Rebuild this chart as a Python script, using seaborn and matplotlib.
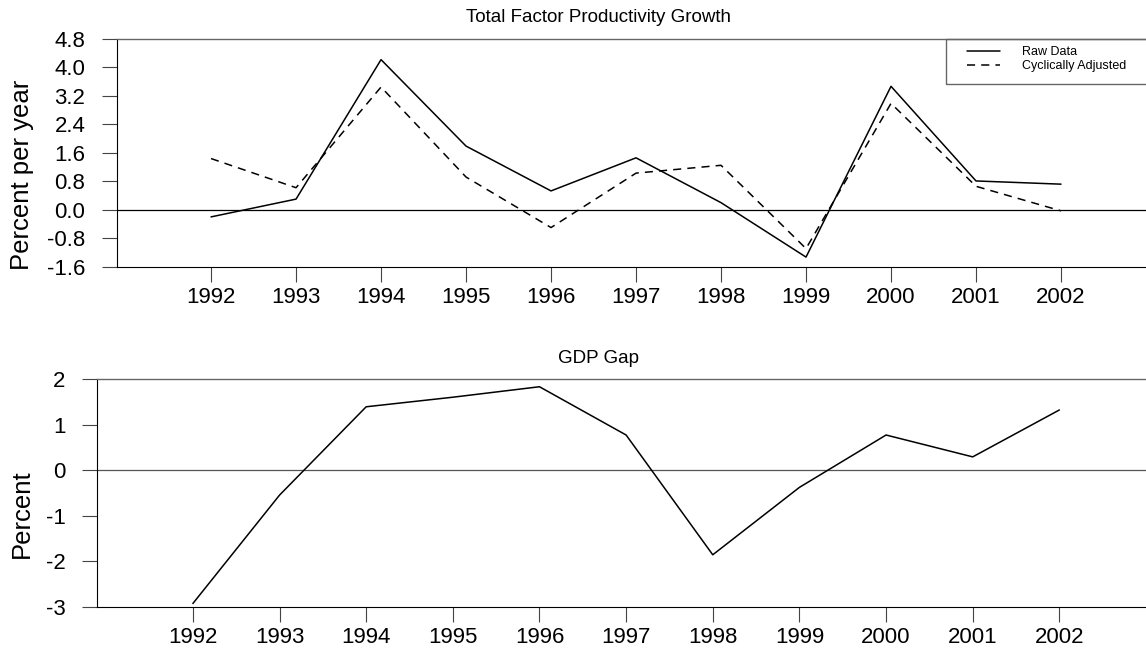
import pandas as pd
import matplotlib.pyplot as plt
from matplotlib.patches import Rectangle
import seaborn as sns

# Data
years = [1992, 1993, 1994, 1995, 1996, 1997, 1998, 1999, 2000, 2001, 2002]
tfp_raw = [-0.20, 0.30, 4.22, 1.79, 0.53, 1.46, 0.20, -1.33, 3.47, 0.81, 0.72]
tfp_adj = [1.44, 0.62, 3.45, 0.92, -0.50, 1.03, 1.25, -1.09, 2.99, 0.66, -0.03]
gdp_gap = [-2.93, -0.55, 1.39, 1.60, 1.83, 0.77, -1.86, -0.38, 0.77, 0.29, 1.32]

tfp_ticks = [-1.6, -0.8, 0.0, 0.8, 1.6, 2.4, 3.2, 4.0, 4.8]
gap_ticks = [-3, -2, -1, 0, 1, 2]
year_labels = [str(y) for y in years]

sns.set_style("ticks")
plt.rcParams['font.family'] = ['Liberation Sans', 'DejaVu Sans']
plt.rcParams['text.color'] = 'black'
plt.rcParams['axes.labelcolor'] = 'black'

W, H = 1146, 652
fig = plt.figure(figsize=(W / 100, H / 100), dpi=100)


def add_axes_px(left, top, right, bottom):
    return fig.add_axes([left / W, 1 - bottom / H, (right - left) / W, (bottom - top) / H])


def style_axes(ax, ticks, labels, zero_color, top_color):
    ax.set_xlim(1990.89, 2003.0)
    ax.set_ylim(ticks[0], ticks[-1])
    ax.set_xticks(years)
    ax.set_xticklabels(year_labels)
    ax.set_yticks(ticks)
    ax.set_yticklabels(labels)
    ax.tick_params(axis='both', direction='out', length=10.5, width=0.8,
                   color='#444444', labelsize=16, labelcolor='black',
                   bottom=True, left=True, top=False, right=False)
    ax.tick_params(axis='x', pad=4)
    ax.tick_params(axis='y', pad=12)
    ax.spines['right'].set_visible(False)
    ax.spines['top'].set_visible(True)
    ax.spines['top'].set_color(top_color)
    ax.spines['top'].set_linewidth(1.0)
    for s in ['left', 'bottom']:
        ax.spines[s].set_color('black')
        ax.spines[s].set_linewidth(0.8)
    ax.axhline(0, color=zero_color, lw=0.9, zorder=1)
    ax.set_xlabel('')
    ax.set_ylabel('')


# ------------------------------
# Top panel: TFP growth
# ------------------------------
ax1 = add_axes_px(116.7, 39, 1146, 266.7)
sns.lineplot(x=years, y=tfp_raw, ax=ax1, color='black', lw=1.1, label='Raw Data')
sns.lineplot(x=years, y=tfp_adj, ax=ax1, color='black', lw=1.1,
             linestyle=(0, (5.3, 4)), label='Cyclically Adjusted')
style_axes(ax1, tfp_ticks, [f"{t:.1f}" for t in tfp_ticks], 'black', '#666666')

handles, labels = ax1.get_legend_handles_labels()
ax1.legend(handles, labels, loc='upper left', bbox_to_anchor=(0.8258, 0.969),
           frameon=False, borderpad=0, borderaxespad=0, handlelength=2.67,
           handletextpad=1.73, labelspacing=0.15, fontsize=9)
ax1.add_patch(Rectangle((0.8054, 0.8037), 0.3, 0.1963, transform=ax1.transAxes,
                        fill=False, edgecolor='#666666', lw=1.0, clip_on=False))

# ------------------------------
# Bottom panel: GDP gap
# ------------------------------
ax2 = add_axes_px(96.7, 379, 1146, 606.7)
sns.lineplot(x=years, y=gdp_gap, ax=ax2, color='black', lw=1.1)
style_axes(ax2, gap_ticks, [str(t) for t in gap_ticks], '#555555', '#666666')

# Titles and axis labels
fig.text(599 / W, 1 - 17.5 / H, 'Total Factor Productivity Growth',
         ha='center', va='center', fontsize=13.5)
fig.text(599 / W, 1 - 358 / H, 'GDP Gap', ha='center', va='center', fontsize=13.5)
fig.text(22.5 / W, 1 - 175 / H, 'Percent per year', rotation=90,
         ha='center', va='center', fontsize=18.5)
fig.text(22 / W, 1 - 514 / H, 'Percent', rotation=90,
         ha='center', va='center', fontsize=18.5)

fig.savefig('out.png', dpi=100)
